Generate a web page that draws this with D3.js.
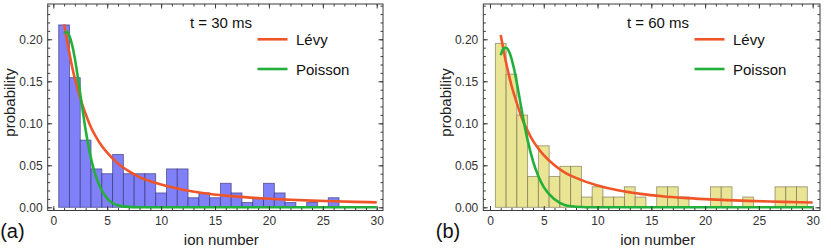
<!DOCTYPE html>
<html>
<head>
<meta charset="utf-8">
<script src="https://cdn.jsdelivr.net/npm/d3@7"></script>
<style>
    body { margin: 0; background: #ffffff; }
    svg { display: block; font-family: "Liberation Sans", Arial, sans-serif; }
</style>
</head>
<body>
<svg id="drawing_region"></svg>
<script>
// histogram bins (ion number) and measured probabilities
const bins_30ms = [ 1, 2, 3, 4, 5, 6, 7, 8, 9, 10, 11, 12, 13, 14, 15, 16, 17, 18, 19, 20, 21, 22, 23, 24, 25, 26 ];
const prob_30ms = [ 0.2171, 0.1543, 0.0800, 0.0457, 0.0400, 0.0629, 0.0400, 0.0400, 0.0400, 0.0171,
                    0.0457, 0.0457, 0.0114, 0.0171, 0.0114, 0.0286, 0.0171, 0.0057, 0.0114, 0.0286,
                    0.0171, 0.0057, 0, 0.0057, 0, 0.0114 ];

const bins_60ms = [ 1, 2, 3, 4, 5, 6, 7, 8, 9, 10, 11, 12, 13, 14, 15, 16, 17, 18, 19, 20, 21, 22, 23, 24, 25, 26, 27, 28, 29 ];
const prob_60ms = [ 0.1951, 0.1585, 0.1098, 0.0366, 0.0732, 0.0366, 0.0488, 0.0488, 0.0122, 0.0244,
                    0.0122, 0.0122, 0.0244, 0.0122, 0, 0.0244, 0.0244, 0.0122, 0, 0,
                    0.0244, 0.0244, 0, 0.0122, 0, 0, 0.0244, 0.0244, 0.0244 ];

// fitted curves
const curve_x = [ 1, 1.25, 1.5, 1.75, 2, 2.25, 2.5, 2.75, 3, 3.5, 4, 4.5, 5, 6, 7, 8, 9, 10, 12, 14, 16, 18, 20, 22, 24, 26, 28, 30 ];
const levy_30ms = [ 0.218, 0.200, 0.183, 0.167, 0.153, 0.141, 0.130, 0.120, 0.111, 0.095, 0.083, 0.073, 0.065, 0.052,
                    0.043, 0.036, 0.031, 0.027, 0.021, 0.0168, 0.0139, 0.0118, 0.0102, 0.0090, 0.0080, 0.0072, 0.0065, 0.0059 ];
const poisson_30ms = [ 0.207, 0.209, 0.204, 0.193, 0.177, 0.157, 0.135, 0.113, 0.092, 0.058, 0.035, 0.020, 0.0105, 0.0023,
                       0.0005, 0.0001, 0, 0, 0, 0, 0, 0, 0, 0, 0, 0, 0, 0 ];
const levy_60ms = [ 0.205, 0.188, 0.172, 0.158, 0.145, 0.134, 0.124, 0.114, 0.105, 0.091, 0.079, 0.070, 0.062, 0.050,
                    0.041, 0.035, 0.030, 0.026, 0.0200, 0.0160, 0.0132, 0.0112, 0.0097, 0.0085, 0.0076, 0.0069, 0.0063, 0.0058 ];
const poisson_60ms = [ 0.181, 0.189, 0.190, 0.186, 0.177, 0.164, 0.148, 0.130, 0.112, 0.080, 0.055, 0.037, 0.024, 0.0095,
                       0.0025, 0.0007, 0.0001, 0, 0, 0, 0, 0, 0, 0, 0, 0, 0, 0 ];

const x_ticks = [ 0, 5, 10, 15, 20, 25, 30 ];
const y_ticks = [ 0, 0.05, 0.10, 0.15, 0.20 ];

class HistPanel {
    constructor( config, data ){
        this.config = {
            parent: config.parent,
            frame: config.frame,
            xdomain: config.xdomain,
            ydomain: config.ydomain,
            fill: config.fill,
            edge: config.edge,
            tag: config.tag,
            title: config.title
        };
        this.data = data;
        this.init();
    }

    init() {
        let self = this;
        let f = self.config.frame;

        self.chart = d3.select( self.config.parent ).append( 'g' );

        self.xscale = d3.scaleLinear()
            .domain( self.config.xdomain )
            .range( [ f.left, f.right ] );

        self.yscale = d3.scaleLinear()
            .domain( self.config.ydomain )
            .range( [ f.bottom, f.top ] );

        self.line = d3.line()
            .x( d => self.xscale( d.x ) )
            .y( d => self.yscale( d.y ) )
            .curve( d3.curveMonotoneX );
    }

    render() {
        let self = this;
        let f = self.config.frame;
        let bars = self.data.bins.map( ( b, i ) => ( { bin: b, p: self.data.prob[i] } ) )
            .filter( d => d.p > 0 );

        self.chart.selectAll( 'rect.bar' )
            .data( bars )
            .enter()
            .append( 'rect' )
            .attr( 'class', 'bar' )
            .attr( 'x', d => self.xscale( d.bin - 0.5 ) )
            .attr( 'width', d => self.xscale( d.bin + 0.5 ) - self.xscale( d.bin - 0.5 ) )
            .attr( 'y', d => self.yscale( d.p ) )
            .attr( 'height', d => self.yscale( 0 ) - self.yscale( d.p ) )
            .attr( 'fill', self.config.fill )
            .attr( 'stroke', self.config.edge )
            .attr( 'stroke-width', 0.9 );

        let toPts = ys => curve_x.map( ( x, i ) => ( { x: x, y: ys[i] } ) );

        self.chart.append( 'path' )
            .attr( 'd', self.line( toPts( self.data.levy ) ) )
            .attr( 'stroke', '#ef5527' )
            .attr( 'stroke-width', 2.6 )
            .attr( 'fill', 'none' );

        self.chart.append( 'path' )
            .attr( 'd', self.line( toPts( self.data.poisson ) ) )
            .attr( 'stroke', '#22b03a' )
            .attr( 'stroke-width', 2.6 )
            .attr( 'fill', 'none' );

        // frame
        self.chart.append( 'rect' )
            .attr( 'x', f.left )
            .attr( 'y', f.top )
            .attr( 'width', f.right - f.left )
            .attr( 'height', f.bottom - f.top )
            .attr( 'fill', 'none' )
            .attr( 'stroke', '#3c3c3c' )
            .attr( 'stroke-width', 1 );

        let xminor = d3.range( 0, 31 );
        let yminor = d3.range( 0, 0.241, 0.01 );

        let axes = [
            { ax: d3.axisBottom( self.xscale ), at: `translate(0,${f.bottom})`, major: x_ticks, minor: xminor, label: true },
            { ax: d3.axisTop( self.xscale ), at: `translate(0,${f.top})`, major: x_ticks, minor: xminor, label: false },
            { ax: d3.axisLeft( self.yscale ), at: `translate(${f.left},0)`, major: y_ticks, minor: yminor, label: true },
            { ax: d3.axisRight( self.yscale ), at: `translate(${f.right},0)`, major: y_ticks, minor: yminor, label: false }
        ];
        let isY = a => a.at.indexOf( 'translate(0' ) !== 0;

        axes.forEach( a => {
            let g = self.chart.append( 'g' ).attr( 'transform', a.at );
            g.call( a.ax.tickValues( a.minor ).tickSize( -2.5 ).tickFormat( '' ) );
            g.select( '.domain' ).remove();
            g.selectAll( 'line' ).attr( 'stroke', '#3c3c3c' );

            let gm = self.chart.append( 'g' ).attr( 'transform', a.at );
            let fmt = isY( a ) ? d3.format( '.2f' ) : d3.format( 'd' );
            gm.call( a.ax.tickValues( a.major ).tickSize( -4.5 )
                .tickPadding( isY( a ) ? 5 : 6 )
                .tickFormat( a.label ? fmt : '' ) );
            gm.select( '.domain' ).remove();
            gm.selectAll( 'line' ).attr( 'stroke', '#3c3c3c' );
            gm.selectAll( 'text' )
                .attr( 'fill', '#333' )
                .style( 'font-size', '12px' )
                .style( 'font-family', '"Liberation Sans", Arial, sans-serif' );
        } );

        // axis labels
        self.chart.append( 'text' )
            .attr( 'x', ( f.left + f.right ) / 2 + 6 )
            .attr( 'y', 245 )
            .attr( 'text-anchor', 'middle' )
            .style( 'font-size', '15px' )
            .attr( 'fill', '#222' )
            .text( 'ion number' );

        self.chart.append( 'text' )
            .attr( 'transform', `translate(${f.left - 38}, 102.5) rotate(-90)` )
            .attr( 'text-anchor', 'middle' )
            .attr( 'dy', '0.35em' )
            .style( 'font-size', '15px' )
            .attr( 'fill', '#222' )
            .text( 'probability' );

        self.chart.append( 'text' )
            .attr( 'x', f.left - 47.5 )
            .attr( 'y', 237.5 )
            .style( 'font-size', '20px' )
            .attr( 'fill', '#111' )
            .text( self.config.tag );

        self.chart.append( 'text' )
            .attr( 'x', f.right - 193 )
            .attr( 'y', 28 )
            .style( 'font-size', '15px' )
            .attr( 'fill', '#111' )
            .text( self.config.title );

        // legend
        let legend = [ { name: 'Lévy', color: '#ef5527', y: 39.3 }, { name: 'Poisson', color: '#22b03a', y: 69 } ];
        legend.forEach( l => {
            self.chart.append( 'line' )
                .attr( 'x1', f.right - 125.5 ).attr( 'x2', f.right - 95.5 )
                .attr( 'y1', l.y ).attr( 'y2', l.y )
                .attr( 'stroke', l.color )
                .attr( 'stroke-width', 2.6 );
            self.chart.append( 'text' )
                .attr( 'x', f.right - 87 )
                .attr( 'y', l.y + 5.5 )
                .style( 'font-size', '15px' )
                .attr( 'fill', '#111' )
                .text( l.name );
        } );
    }
}

d3.select( '#drawing_region' )
    .attr( 'width', 831 )
    .attr( 'height', 249 );

let panel_a = new HistPanel( {
    parent: '#drawing_region',
    frame: { left: 47.7, right: 383, top: 4, bottom: 210.5 },
    xdomain: [ -0.52, 30.58 ],
    ydomain: [ -0.0038, 0.2420 ],
    fill: 'rgb(128,128,248)',
    edge: 'rgba(45,45,110,0.65)',
    tag: '(a)',
    title: 't = 30 ms'
}, { bins: bins_30ms, prob: prob_30ms, levy: levy_30ms, poisson: poisson_30ms } );
panel_a.render();

let panel_b = new HistPanel( {
    parent: '#drawing_region',
    frame: { left: 483.3, right: 820, top: 4, bottom: 210.5 },
    xdomain: [ -0.62, 30.68 ],
    ydomain: [ -0.0038, 0.2420 ],
    fill: 'rgb(233,229,148)',
    edge: 'rgba(110,105,70,0.65)',
    tag: '(b)',
    title: 't = 60 ms'
}, { bins: bins_60ms, prob: prob_60ms, levy: levy_60ms, poisson: poisson_60ms } );
panel_b.render();
</script>
</body>
</html>
